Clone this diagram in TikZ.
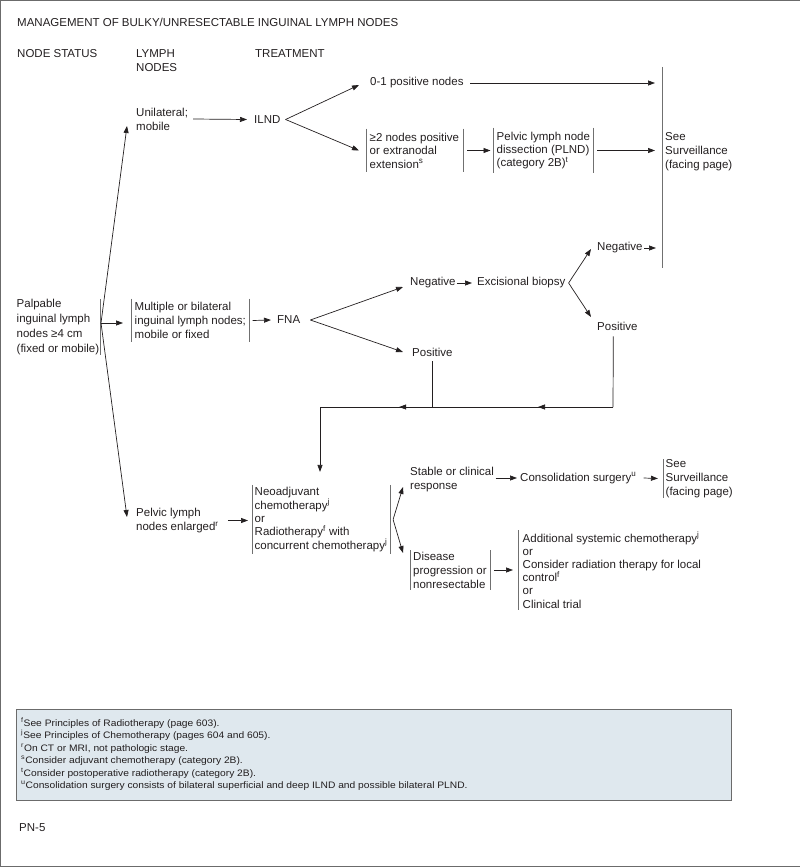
\documentclass[tikz,border=0pt]{standalone}
\usepackage{fontspec}
\setmainfont{Liberation Sans}
\newfontfamily\noteFont[FakeStretch=1.09]{Liberation Sans}
\usetikzlibrary{arrows.meta,positioning,calc,decorations.markings}
\definecolor{ink}{HTML}{231F20}
\definecolor{barGray}{HTML}{707070}
\definecolor{noteFill}{HTML}{DFE8EE}
\definecolor{noteEdge}{HTML}{6B6B6B}
\newcommand{\fs}{\fontsize{11.5}{14}\selectfont}
\newcommand{\fsTight}{\fontsize{11.5}{13.4}\selectfont}
\tikzset{
  txt/.style={anchor=west, align=left, inner sep=0pt, text=ink, font=\fs},
  barline/.style={draw=barGray, line width=0.6pt},
  barL/.style={append after command={(\tikzlastnode.north west) edge[barline] (\tikzlastnode.south west)}},
  barR/.style={append after command={(\tikzlastnode.north east) edge[barline] (\tikzlastnode.south east)}},
  arr/.style={-{Triangle[length=7pt,width=5pt]}, draw=ink, line width=0.7pt},
  link/.style={draw=ink, line width=0.7pt},
  twoMarks/.style 2 args={postaction={decorate}, decoration={markings,
      mark=at position #1 with {\arrow{Triangle[length=7pt,width=5pt]}},
      mark=at position #2 with {\arrow{Triangle[length=7pt,width=5pt]}}}},
  frameLine/.style={draw=noteEdge, line width=1pt}
}
\begin{document}
\begin{tikzpicture}[x=1pt,y=-1pt]
  \useasboundingbox (0,0) rectangle (800,867);
  \draw[frameLine] (800,0.5) -- (0.5,0.5) -- (0.5,866) -- (800,866);

  % headings
  \node[txt] (title) at (17,22.5) {MANAGEMENT OF BULKY/UNRESECTABLE INGUINAL LYMPH NODES};
  \node[txt] (hStatus) at (17,53.5) {NODE STATUS};
  \node[txt] (hLymph) at (136,60.5) {LYMPH\\NODES};
  \node[txt] (hTreat) at (255,53.5) {TREATMENT};

  % node status and lymph nodes
  \node[txt, font=\fontsize{11.5}{14.7}\selectfont, inner xsep=0.5pt, barR] (pal) at (16,327) {Palpable\\inguinal lymph\\nodes ≥4 cm\\(fixed or mobile)};
  \coordinate (palFork) at (101,323);
  \node[txt] (unil) at (136,119) {Unilateral;\\mobile};
  \node[txt, inner xsep=3.5pt, inner ysep=3.4pt, barL, barR] (mult) at (131,320.5) {Multiple or bilateral\\inguinal lymph nodes;\\mobile or fixed};
  \node[txt] (pelv) at (136,520.5) {Pelvic lymph\\nodes enlarged\textsuperscript{r}};

  % upper branch
  \node[txt] (ilnd) at (254,119.5) {ILND};
  \node[txt] (pos01) at (370,83) {0-1 positive nodes};
  \node[txt, font=\fsTight, inner xsep=3.5pt, inner ysep=4pt, barL, barR] (twoPlus) at (366,150.5) {≥2 nodes positive\\or extranodal\\extension\textsuperscript{s}};
  \node[txt, font=\fsTight, inner xsep=3pt, inner ysep=4pt, barL, barR] (plnd) at (493.5,150.5) {Pelvic lymph node\\dissection (PLND)\\(category 2B)\textsuperscript{t}};
  \coordinate (svTop) at (662,67);
  \coordinate (svBot) at (662,268);
  \draw[barline] (svTop) -- (svBot);
  \node[txt] (surv) at (665,152) {See\\Surveillance\\(facing page)};

  % FNA branch
  \node[txt] (fna) at (277,320) {FNA};
  \node[txt] (negA) at (410,283) {Negative};
  \node[txt] (excis) at (477,283) {Excisional biopsy};
  \node[txt] (negB) at (597,248) {Negative};
  \node[txt] (posB) at (597,326) {Positive};
  \node[txt] (posA) at (412,352) {Positive};
  \coordinate (joinR) at (613,407);
  \coordinate (joinL) at (320,407);

  % pelvic branch
  \node[txt, font=\fsTight, inner xsep=2.5pt, inner ysep=2.2pt, barL, barR] (neo) at (252,519.5) {Neoadjuvant\\chemotherapy\textsuperscript{j}\\or\\Radiotherapy\textsuperscript{f} with\\concurrent chemotherapy\textsuperscript{j}};
  \node[txt] (stab) at (410,480) {Stable or clinical\\response};
  \node[txt] (consol) at (520,478) {Consolidation surgery\textsuperscript{u}};
  \node[txt, inner xsep=2.5pt, inner ysep=0pt, barL] (survB) at (663,478.5) {See\\Surveillance\\(facing page)};
  \node[txt, inner xsep=3pt, inner ysep=1.4pt, barL, barR] (dis) at (410,570) {Disease\\progression or\\nonresectable};
  \node[txt, font=\fontsize{11.5}{13.2}\selectfont, inner xsep=4.5pt, inner ysep=1.4pt, barL] (addl) at (518,570) {Additional systemic chemotherapy\textsuperscript{j}\\or\\Consider radiation therapy for local\\control\textsuperscript{f}\\or\\Clinical trial};

  % connectors
  \draw[arr] (palFork) -- ([xshift=-9pt,yshift=-7pt]unil.west);
  \draw[arr] (palFork) -- ([xshift=-8pt]mult.west |- palFork);
  \draw[arr] (palFork) -- ([xshift=-9pt,yshift=3.5pt]pelv.west);
  \draw[arr] ([xshift=5pt]unil.east) -- ([xshift=-7pt]ilnd.west);
  \draw[arr] ([xshift=5pt]ilnd.east) -- ([xshift=-11pt,yshift=-2pt]pos01.west);
  \draw[arr] ([xshift=5pt]ilnd.east) -- ([xshift=-7pt]twoPlus.west);
  \draw[arr, shorten >=7pt] ([xshift=6.5pt]pos01.east) -- (pos01.east -| svTop);
  \draw[arr] ([xshift=4.5pt]twoPlus.east) -- ([xshift=-3pt]plnd.west);
  \draw[arr, shorten >=7pt] ([xshift=4pt]plnd.east) -- (plnd.east -| svTop);
  \draw[arr] ([xshift=3pt]mult.east) -- ([xshift=-6pt]fna.west);
  \draw[arr] ([xshift=10pt]fna.east) -- ([xshift=-7pt,yshift=-4pt]negA.west);
  \draw[arr] ([xshift=10pt]fna.east) -- ([xshift=-9pt]posA.west);
  \draw[arr] ([xshift=1pt]negA.east) -- ([xshift=-5pt]excis.west);
  \draw[arr] ([xshift=3pt]excis.east) -- ([xshift=-6pt,yshift=-1pt]negB.west);
  \draw[arr] ([xshift=3pt]excis.east) -- ([xshift=-6pt,yshift=9pt]posB.west);
  \draw[arr, shorten >=6pt] ([xshift=1.5pt]negB.east) -- (negB.east -| svTop);
  \draw[link] ([xshift=-4pt,yshift=-6pt]posB.south) -- (joinR);
  \draw[link] ([yshift=-5pt]posA.south) -- (posA.south |- joinR);
  \draw[link, twoMarks={0.256}{0.73}] (joinR) -- (joinL);
  \draw[arr, shorten >=13pt] (joinL) -- (joinL |- neo.north);
  \draw[arr] ([xshift=9pt]pelv.east) -- ([xshift=-4pt]neo.west |- pelv.east);
  \draw[arr] ([xshift=3pt]neo.east) -- ([xshift=-7pt,yshift=-7pt]stab.west);
  \draw[arr] ([xshift=3pt]neo.east) -- ([xshift=-7pt,yshift=17pt]dis.west);
  \draw[arr] ([xshift=1.5pt]stab.east |- consol.west) -- ([xshift=-3pt]consol.west);
  \draw[arr] ([xshift=7pt]consol.east) -- ([xshift=-5pt]survB.west);
  \draw[arr] ([xshift=4pt]dis.east) -- ([xshift=-5pt]addl.west);

  % footnotes
  \node[draw=noteEdge, fill=noteFill, line width=0.8pt, minimum width=715pt, minimum height=91pt, inner sep=0pt, anchor=north west] (noteBox) at (16,709) {};
  \node[anchor=north west, align=left, inner sep=0pt, text=ink, font=\noteFont\fontsize{9.4}{12.45}\selectfont] (notes) at (21,717.5) {\textsuperscript{f}See Principles of Radiotherapy (page 603).\\
    \textsuperscript{j}See Principles of Chemotherapy (pages 604 and 605).\\
    \textsuperscript{r}On CT or MRI, not pathologic stage.\\
    \textsuperscript{s}Consider adjuvant chemotherapy (category 2B).\\
    \textsuperscript{t}Consider postoperative radiotherapy (category 2B).\\
    \textsuperscript{u}Consolidation surgery consists of bilateral superficial and deep ILND and possible bilateral PLND.};
  \node[txt] (page) at (19,828) {PN-5};
\end{tikzpicture}
\end{document}
